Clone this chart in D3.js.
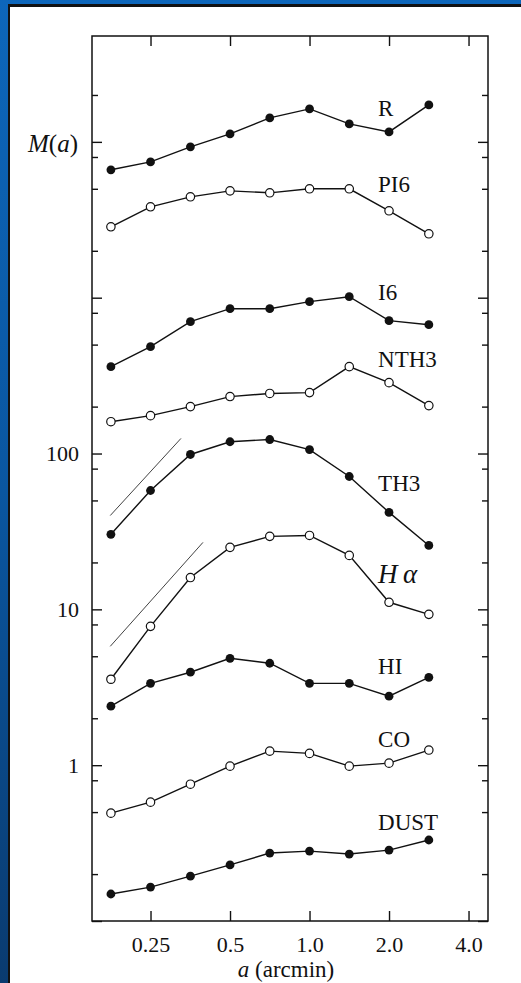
<!DOCTYPE html>
<html><head><meta charset="utf-8">
<script src="https://cdn.jsdelivr.net/npm/d3@7/dist/d3.min.js"></script>
<style>html,body{margin:0;padding:0;overflow:hidden;background:#0b5aa8}</style>
</head><body><svg id="c" width="521" height="983"></svg>
<script>
// ---- data ----
const aValues = [0.177, 0.25, 0.354, 0.5, 0.707, 1.0, 1.414, 2.0, 2.83];
const seriesNames = ["R", "PI6", "I6", "NTH3", "TH3", "Hα", "HI", "CO", "DUST"];
const seriesFilled = [true, false, true, false, true, false, true, false, true];
const R_vals    = [6620, 7440, 9290, 11250, 14250, 16280, 13040, 11590, 17260];
const PI6_vals  = [2850, 3830, 4440, 4850, 4710, 5000, 5000, 3610, 2570];
const I6_vals   = [361, 485, 702, 850, 850, 943, 1015, 712, 671];
const NTH3_vals = [160, 175, 200, 232, 243, 246, 361, 285, 203];
const TH3_vals  = [30.3, 57.9, 98.6, 119, 123, 106, 71.2, 41.9, 25.7];
const Ha_vals   = [3.56, 7.78, 16.0, 25.0, 29.4, 29.8, 22.2, 11.1, 9.29];
const HI_vals   = [2.39, 3.35, 3.95, 4.85, 4.51, 3.35, 3.35, 2.77, 3.66];
const CO_vals   = [0.492, 0.579, 0.755, 0.986, 1.23, 1.19, 0.986, 1.03, 1.25];
const DUST_vals = [0.149, 0.165, 0.194, 0.229, 0.273, 0.281, 0.269, 0.285, 0.331];
const seriesValues = [R_vals, PI6_vals, I6_vals, NTH3_vals, TH3_vals, Ha_vals, HI_vals, CO_vals, DUST_vals];
// label anchors (data units): a, M
const labelA = 1.818;
const labelM = [14680, 4780, 971, 361, 57.9, 14.7, 3.83, 1.30, 0.383];
// slope reference lines [a, M] endpoints
const slopeLine1 = [[0.176, 40], [0.326, 125]];
const slopeLine2 = [[0.176, 5.79], [0.395, 26.9]];
// ticks
const xTicks = [0.25, 0.5, 1, 2, 4];
const xTickLabels = ["0.25", "0.5", "1.0", "2.0", "4.0"];
const yMajorTicks = [0.1, 1, 10, 100, 1000, 10000];
const yMinorTicks = [0.2, 0.5, 0.8, 2, 5, 8, 20, 50, 80, 200, 500, 800, 2000, 5000, 8000, 20000];
const yTickLabels = {1: "1", 10: "10", 100: "100"};

// ---- drawing ----
const svg = d3.select("#c");
const defs = svg.append("defs");
const g = defs.append("linearGradient").attr("id", "bg").attr("x1", 0).attr("y1", 0).attr("x2", 0).attr("y2", 1);
g.append("stop").attr("offset", "0%").attr("stop-color", "#0d66ba");
g.append("stop").attr("offset", "50%").attr("stop-color", "#0a56a0");
g.append("stop").attr("offset", "100%").attr("stop-color", "#0a3b70");
svg.append("rect").attr("width", 521).attr("height", 983).attr("fill", "url(#bg)");
svg.append("rect").attr("x", 8).attr("y", 4).attr("width", 521).attr("height", 990).attr("fill", "#111");
svg.append("rect").attr("x", 10).attr("y", 7).attr("width", 521).attr("height", 990).attr("fill", "#fff");

const L = 92, T = 36, Rr = 488, B = 921;
const x = d3.scaleLog().domain([0.1501, 4.74]).range([L, Rr]);
const y = d3.scaleLog().domain([0.1, 47800]).range([B, T]);

const font = "'Liberation Serif', 'DejaVu Serif', serif";
const ink = "#111";

// frame
svg.append("rect").attr("x", L).attr("y", T).attr("width", Rr - L).attr("height", B - T)
  .attr("fill", "none").attr("stroke", ink).attr("stroke-width", 1.5);

// axes with inward ticks
const xb = d3.axisBottom(x).tickValues(xTicks).tickSize(-10).tickFormat((d, i) => xTickLabels[i]).tickPadding(15);
const xt = d3.axisTop(x).tickValues(xTicks).tickSize(-10).tickFormat("");
const yl = d3.axisLeft(y).tickValues(yMajorTicks).tickSize(-10).tickFormat(d => yTickLabels[d] || "").tickPadding(13);
const ylm = d3.axisLeft(y).tickValues(yMinorTicks).tickSize(-6).tickFormat("");
const yr = d3.axisRight(y).tickValues(yMajorTicks).tickSize(-10).tickFormat("");
const yrm = d3.axisRight(y).tickValues(yMinorTicks).tickSize(-6).tickFormat("");

function style(sel) {
  sel.select(".domain").remove();
  sel.selectAll("line").attr("stroke", ink).attr("stroke-width", 1.4);
  sel.selectAll("text").attr("fill", ink).style("font-family", font).style("font-size", "22px");
}
svg.append("g").attr("transform", `translate(0,${B})`).call(xb).call(style);
svg.append("g").attr("transform", `translate(0,${T})`).call(xt).call(style);
svg.append("g").attr("transform", `translate(${L},0)`).call(yl).call(style);
svg.append("g").attr("transform", `translate(${L},0)`).call(ylm).call(style);
svg.append("g").attr("transform", `translate(${Rr},0)`).call(yr).call(style);
svg.append("g").attr("transform", `translate(${Rr},0)`).call(yrm).call(style);

// M(a) label at 10^4
const my = svg.append("text").attr("x", 78).attr("y", y(10000) + 10).attr("text-anchor", "end")
  .style("font-family", font).style("font-size", "25px").attr("fill", ink);
my.append("tspan").style("font-style", "italic").text("M");
my.append("tspan").text("(");
my.append("tspan").style("font-style", "italic").text("a");
my.append("tspan").text(")");

// x title
const xtitle = svg.append("text").attr("x", 286).attr("y", 977).attr("text-anchor", "middle")
  .style("font-family", font).style("font-size", "23px").attr("fill", ink);
xtitle.append("tspan").style("font-style", "italic").text("a");
xtitle.append("tspan").text(" (arcmin)");

// slope lines
const line = d3.line().x(d => x(d[0])).y(d => y(d[1]));
[slopeLine1, slopeLine2].forEach(s => {
  svg.append("path").attr("d", line(s)).attr("fill", "none").attr("stroke", ink).attr("stroke-width", 0.8);
});

// series
seriesValues.forEach((vals, si) => {
  const pts = vals.map((v, i) => [aValues[i], v]);
  svg.append("path").attr("d", line(pts)).attr("fill", "none").attr("stroke", ink).attr("stroke-width", 1.4);
  svg.append("g").selectAll("circle").data(pts).join("circle")
    .attr("cx", d => x(d[0])).attr("cy", d => y(d[1]))
    .attr("r", seriesFilled[si] ? 4.4 : 4.2)
    .attr("fill", seriesFilled[si] ? ink : "#fff")
    .attr("stroke", ink).attr("stroke-width", seriesFilled[si] ? 0 : 1.2);
  const t = svg.append("text").attr("x", x(labelA)).attr("y", y(labelM[si]))
    .style("font-family", font).attr("fill", ink);
  if (seriesNames[si] === "Hα") {
    t.style("font-size", "27px").style("font-style", "italic").text("H\u2009α");
  } else {
    t.style("font-size", "23px").text(seriesNames[si]);
  }
});
</script></body></html>
